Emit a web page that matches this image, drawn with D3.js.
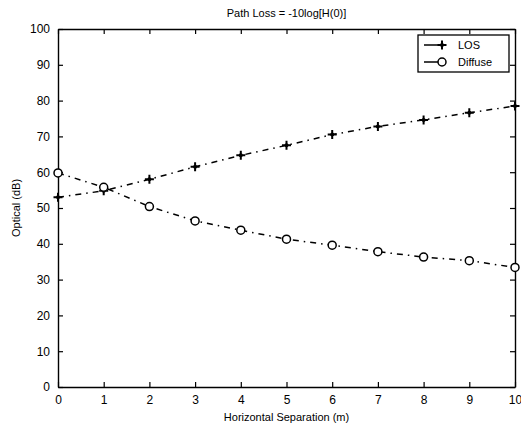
<!DOCTYPE html>
<html lang="en">
<head>
    <meta charset="UTF-8">
    <title>Path Loss</title>
    <script src="https://d3js.org/d3.v7.min.js"></script>
    <style>
        body { margin: 0; background: #fff; }
        svg { display: block; }
        text { font-family: "Liberation Sans", Arial, sans-serif; fill: #000; }
    </style>
</head>
<body>
<script>
    // data
    let separation = [0, 1, 2, 3, 4, 5, 6, 7, 8, 9, 10];
    let losValues = [53, 54.8, 58, 61.5, 64.7, 67.5, 70.5, 72.8, 74.6, 76.6, 78.5];
    let diffuseValues = [59.8, 55.8, 50.4, 46.4, 43.8, 41.3, 39.6, 37.8, 36.3, 35.3, 33.4];
    let xTicks = [0, 1, 2, 3, 4, 5, 6, 7, 8, 9, 10];
    let yTicks = [0, 10, 20, 30, 40, 50, 60, 70, 80, 90, 100];
    let seriesNames = ["LOS", "Diffuse"];

    let width = 521, height = 431;
    let margin = {left: 58, right: 6, top: 29, bottom: 44};

    let svg = d3.select("body")
                .append("svg")
                .attr("width", width)
                .attr("height", height);

    let x = d3.scaleLinear()
              .domain([0, 10])
              .range([margin.left, width - margin.right]);
    let y = d3.scaleLinear()
              .domain([0, 100])
              .range([height - margin.bottom, margin.top]);

    // axes, ticks pointing inward like matlab
    let tick = 5;
    svg.append("g")
       .attr("transform", `translate(0,${y(0)})`)
       .call(d3.axisBottom(x).tickValues(xTicks).tickSizeInner(-tick).tickSizeOuter(0).tickPadding(8));
    svg.append("g")
       .attr("transform", `translate(${x(0)},0)`)
       .call(d3.axisLeft(y).tickValues(yTicks).tickSizeInner(-tick).tickSizeOuter(0).tickPadding(8));
    svg.append("g")
       .attr("transform", `translate(0,${y(100)})`)
       .call(d3.axisTop(x).tickValues(xTicks).tickSizeInner(-tick).tickSizeOuter(0).tickFormat(""));
    svg.append("g")
       .attr("transform", `translate(${x(10)},0)`)
       .call(d3.axisRight(y).tickValues(yTicks).tickSizeInner(-tick).tickSizeOuter(0).tickFormat(""));

    svg.selectAll(".domain").attr("stroke", "#000").attr("stroke-width", 1.4);
    svg.selectAll(".tick line").attr("stroke", "#000").attr("stroke-width", 1.2);
    svg.selectAll(".tick text")
       .attr("font-size", 12)
       .attr("font-family", "Liberation Sans, Arial, sans-serif")
       .attr("fill", "#000");

    // title and axis labels
    svg.append("text")
       .attr("x", x(5))
       .attr("y", 17)
       .attr("text-anchor", "middle")
       .attr("font-size", 11)
       .text("Path Loss = -10log[H(0)]");

    svg.append("text")
       .attr("x", x(5))
       .attr("y", 421)
       .attr("text-anchor", "middle")
       .attr("font-size", 11)
       .text("Horizontal Separation (m)");

    svg.append("text")
       .attr("transform", `translate(20,${y(50)}) rotate(-90)`)
       .attr("text-anchor", "middle")
       .attr("font-size", 11)
       .text("Optical (dB)");

    // series
    let line = d3.line()
                 .x((d, i) => x(separation[i]))
                 .y(d => y(d));

    let dash = "6,5,1.5,5";

    [losValues, diffuseValues].forEach(vals => {
        svg.append("path")
           .attr("d", line(vals))
           .attr("fill", "none")
           .attr("stroke", "#000")
           .attr("stroke-width", 1.5)
           .attr("stroke-dasharray", dash);
    });

    function plusMarker(g, cx, cy) {
        g.append("path")
         .attr("d", `M${cx - 4.5},${cy}H${cx + 4.5}M${cx},${cy - 4.5}V${cy + 4.5}`)
         .attr("stroke", "#000")
         .attr("stroke-width", 2);
        g.append("circle")
         .attr("cx", cx).attr("cy", cy).attr("r", 2)
         .attr("fill", "#000");
    }

    function circleMarker(g, cx, cy) {
        g.append("circle")
         .attr("cx", cx).attr("cy", cy).attr("r", 4)
         .attr("fill", "#fff")
         .attr("stroke", "#000")
         .attr("stroke-width", 1.5);
    }

    let markers = svg.append("g");
    losValues.forEach((d, i) => plusMarker(markers, x(separation[i]), y(d)));
    diffuseValues.forEach((d, i) => circleMarker(markers, x(separation[i]), y(d)));

    // legend
    let lg = svg.append("g");
    lg.append("rect")
      .attr("x", 418).attr("y", 35)
      .attr("width", 91).attr("height", 37)
      .attr("fill", "#fff")
      .attr("stroke", "#000")
      .attr("stroke-width", 1.3);

    seriesNames.forEach((name, i) => {
        let ly = 45 + i * 17;
        lg.append("line")
          .attr("x1", 424).attr("x2", 446)
          .attr("y1", ly).attr("y2", ly)
          .attr("stroke", "#000")
          .attr("stroke-width", 1.5);
        if (i === 0) plusMarker(lg, 442, ly);
        else circleMarker(lg, 442, ly);
        lg.append("text")
          .attr("x", 458)
          .attr("y", ly + 4)
          .attr("font-size", 11)
          .text(name);
    });
</script>
</body>
</html>
